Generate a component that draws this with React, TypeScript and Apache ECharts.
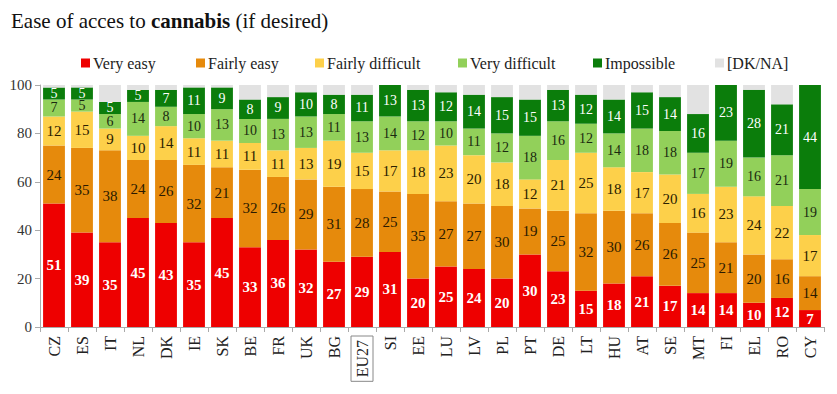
import React, { useEffect, useRef } from "react";
import * as echarts from "echarts";

const categories = ["CZ","ES","IT","NL","DK","IE","SK","BE","FR","UK","BG","EU27","SI","EE","LU","LV","PL","PT","DE","LT","HU","AT","SE","MT","FI","EL","RO","CY"];
const veryEasy =        [51,39,35,45,43,35,45,33,36,32,27,29,31,20,25,24,20,30,23,15,18,21,17,14,14,10,12,7];
const fairlyEasy =      [24,35,38,24,26,32,21,32,26,29,31,28,25,35,27,27,30,19,25,32,30,26,26,25,21,20,16,14];
const fairlyDifficult = [12,15,9,10,14,11,11,11,11,13,19,15,17,18,23,20,18,12,21,25,18,17,20,16,23,24,22,17];
const veryDifficult =   [7,5,6,14,8,10,13,10,13,13,11,13,14,12,10,11,12,18,16,12,14,18,18,17,19,16,21,19];
const impossible =      [5,5,5,5,7,11,9,8,9,10,8,11,13,13,12,14,15,15,13,12,14,15,14,16,23,28,21,44];
const dkna =            [1,1,7,2,2,1,1,6,5,3,4,4,0,2,3,4,5,6,2,4,6,3,5,12,0,2,8,0];
const yTicks = [0, 20, 40, 60, 80, 100];

const seriesNames = ["Very easy", "Fairly easy", "Fairly difficult", "Very difficult", "Impossible", "[DK/NA]"];
const colors = ["#ee0000", "#e68a0c", "#fdd04a", "#92d05a", "#0b7d0b", "#e2e2e2"];
const labelColors = ["#ffffff", "#2a1a00", "#2a2000", "#1a2a10", "#ffffff", "#333"];
const labelSizes = [15, 15, 15, 14, 14, 14];
const legendLeft = [76, 191, 310, 453, 588, 710];

const FONT = "'Liberation Serif', 'Times New Roman', serif";

export default function App() {
  const ref = useRef<HTMLDivElement>(null);
  useEffect(() => {
    if (!ref.current) return;
    const chart = echarts.init(ref.current, undefined, { renderer: "svg" });
    const datasets = [veryEasy, fairlyEasy, fairlyDifficult, veryDifficult, impossible, dkna];
    chart.setOption({
      animation: false,
      textStyle: { fontFamily: FONT },
      title: {
        text: "Ease of acces to {b|cannabis} (if desired)",
        left: 6,
        top: 5,
        textStyle: {
          fontFamily: FONT,
          fontSize: 21,
          fontWeight: "normal",
          color: "#111",
          rich: {
            b: { fontFamily: FONT, fontSize: 21, fontWeight: "bold", color: "#111" },
          },
        },
      },
      legend: seriesNames.map((n, i) => ({
        data: [n],
        left: legendLeft[i],
        top: 50,
        itemWidth: 9,
        itemHeight: 9,
        itemGap: 4,
        icon: "rect",
        textStyle: { fontFamily: FONT, fontSize: 16, color: "#222", padding: [0, 0, 0, -2] },
        selectedMode: false,
      })),
      grid: { left: 40, right: 13, top: 85, bottom: 67 },
      xAxis: {
        type: "category",
        data: categories,
        axisLine: { lineStyle: { color: "#aaa" } },
        axisTick: { show: true, alignWithLabel: false, length: 5, lineStyle: { color: "#aaa" } },
        axisLabel: {
          rotate: 90,
          interval: 0,
          margin: 9,
          fontFamily: FONT,
          fontSize: 16,
          color: "#222",
          formatter: (v: string) => (v === "EU27" ? "{box|" + v + "}" : v),
          rich: {
            box: {
              fontFamily: FONT,
              fontSize: 16,
              color: "#222",
              borderColor: "#888",
              borderWidth: 1,
              padding: [3, 4, 3, 4],
            },
          },
        },
      },
      yAxis: {
        type: "value",
        min: yTicks[0],
        max: yTicks[yTicks.length - 1],
        interval: 20,
        splitLine: { show: false },
        axisLine: { show: true, lineStyle: { color: "#aaa" } },
        axisTick: { show: true, length: 5, lineStyle: { color: "#aaa" } },
        axisLabel: { fontFamily: FONT, fontSize: 15, color: "#333", margin: 8 },
      },
      series: datasets.map((d, i) => ({
        name: seriesNames[i],
        type: "bar",
        stack: "total",
        data: d,
        barCategoryGap: "22%",
        itemStyle: { color: colors[i] },
        label: {
          show: i < 5,
          position: "inside",
          fontFamily: FONT,
          fontSize: labelSizes[i],
          fontWeight: i === 0 ? "bold" : "normal",
          color: labelColors[i],
        },
      })),
    });
    return () => chart.dispose();
  }, []);
  return <div ref={ref} style={{ width: 837, height: 394, position: "absolute", left: 0, top: 0 }} />;
}
